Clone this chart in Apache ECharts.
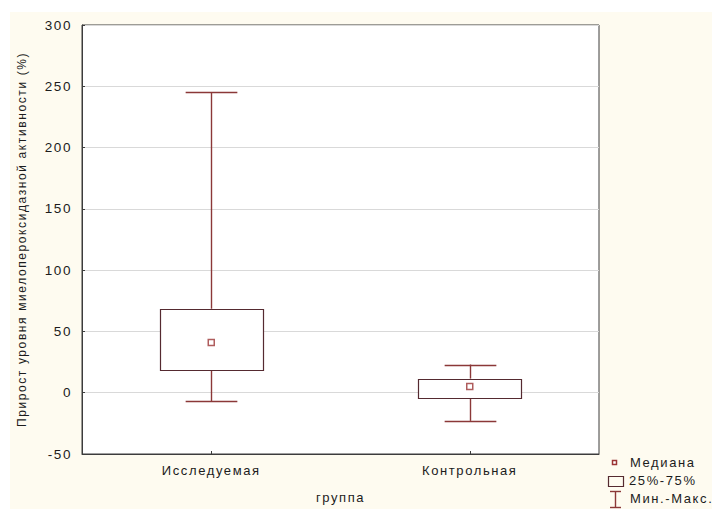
<!DOCTYPE html>
<html>
<head>
<meta charset="utf-8">
<script src="https://cdn.jsdelivr.net/npm/echarts@6/dist/echarts.min.js"></script>
<style>
  html, body { margin: 0; padding: 0; background: #ffffff; }
  #wrap { position: relative; width: 712px; height: 509px; background: #ffffff; overflow: hidden; }
  #panel { position: absolute; left: 10px; top: 12px; right: 0; bottom: 0; background: #fefbf0; }
  #chart { position: absolute; left: 0; top: 0; width: 712px; height: 509px; }
  #chart svg text { letter-spacing: 1.6px; }
</style>
</head>
<body>
<div id="wrap">
  <div id="panel"></div>
  <div id="chart"></div>
</div>
<script>
// Groups on the x axis
const categories = ['Исследуемая', 'Контрольная'];
// Five-number summary per group (%)
const minValues = [-7, -23];
const q1Values = [18.5, -4];
const medianValues = [41, 5];
const q3Values = [68.5, 11.5];
const maxValues = [245, 23];
// Value axis range and step
const yMin = -50;
const yMax = 300;
const yStep = 50;
// Legend captions
const legendNames = ['Медиана', '25%-75%', 'Мин.-Макс.'];

const boxStroke = '#552a30';
const whiskerStroke = '#8b3838';
const medianStroke = '#9b3434';
const textColor = '#1c1c1c';
const fontFamily = 'Liberation Sans, Arial, sans-serif';

const crisp = v => Math.round(v) + 0.5;

const chart = echarts.init(document.getElementById('chart'), null, { renderer: 'svg' });

const boxData = categories.map((c, i) => [i, q1Values[i], q3Values[i]]);
const whiskerData = categories.map((c, i) => [i, minValues[i], q1Values[i], q3Values[i], maxValues[i]]);
const medianData = categories.map((c, i) => [i, medianValues[i]]);

const legendY = [463, 481, 499];

chart.setOption({
  backgroundColor: 'transparent',
  animation: false,
  grid: {
    left: 82, top: 25, width: 517, height: 432,
    show: true, backgroundColor: '#ffffff',
    borderColor: '#3c3c3c', borderWidth: 1
  },
  xAxis: {
    type: 'category',
    data: categories,
    name: 'группа',
    nameLocation: 'middle',
    nameGap: 37,
    nameTextStyle: { color: textColor, fontSize: 13, fontFamily: fontFamily },
    axisLine: { show: true, onZero: false, lineStyle: { color: '#3c3c3c' } },
    axisTick: { show: true, inside: true, length: 3, alignWithLabel: true, lineStyle: { color: '#3c3c3c' } },
    axisLabel: { color: textColor, fontSize: 13, fontFamily: fontFamily, margin: 10 },
    splitLine: { show: false }
  },
  yAxis: {
    type: 'value',
    min: yMin, max: yMax, interval: yStep,
    name: 'Прирост уровня миелопероксидазной активности (%)',
    nameLocation: 'middle',
    nameGap: 54,
    nameRotate: 90,
    nameTextStyle: { color: textColor, fontSize: 12, fontFamily: fontFamily },
    axisLine: { show: true, lineStyle: { color: '#3c3c3c' } },
    axisTick: { show: true, inside: true, length: 3, lineStyle: { color: '#3c3c3c' } },
    axisLabel: { color: textColor, fontSize: 13.5, fontFamily: fontFamily, margin: 10 },
    splitLine: { show: true, lineStyle: { color: '#d9d9d9', width: 1 } }
  },
  series: [
    {
      name: legendNames[2],
      type: 'custom',
      data: whiskerData,
      encode: { x: 0, y: [1, 2, 3, 4] },
      renderItem: function (params, api) {
        const idx = api.value(0);
        const pMin = api.coord([idx, api.value(1)]);
        const pQ1 = api.coord([idx, api.value(2)]);
        const pQ3 = api.coord([idx, api.value(3)]);
        const pMax = api.coord([idx, api.value(4)]);
        const cx = crisp(pMin[0]);
        const capHalf = api.size([1, 0])[0] * 0.1;
        const style = { stroke: whiskerStroke, lineWidth: 1.4, fill: null };
        return {
          type: 'group',
          children: [
            { type: 'line', shape: { x1: cx, y1: pMin[1], x2: cx, y2: pQ1[1] }, style: style },
            { type: 'line', shape: { x1: cx, y1: pQ3[1], x2: cx, y2: pMax[1] }, style: style },
            { type: 'line', shape: { x1: cx - capHalf, y1: crisp(pMin[1]), x2: cx + capHalf, y2: crisp(pMin[1]) }, style: style },
            { type: 'line', shape: { x1: cx - capHalf, y1: crisp(pMax[1]), x2: cx + capHalf, y2: crisp(pMax[1]) }, style: style }
          ]
        };
      },
      z: 2
    },
    {
      name: legendNames[1],
      type: 'custom',
      data: boxData,
      encode: { x: 0, y: [1, 2] },
      renderItem: function (params, api) {
        const idx = api.value(0);
        const lo = api.coord([idx, api.value(1)]);
        const hi = api.coord([idx, api.value(2)]);
        const w = api.size([1, 0])[0] * 0.4;
        const x0 = crisp(lo[0] - w / 2);
        const x1 = crisp(lo[0] + w / 2);
        const y0 = crisp(hi[1]);
        const y1 = crisp(lo[1]);
        return {
          type: 'rect',
          shape: { x: x0, y: y0, width: x1 - x0, height: y1 - y0 },
          style: { fill: '#ffffff', stroke: boxStroke, lineWidth: 1.2 }
        };
      },
      z: 3
    },
    {
      name: legendNames[0],
      type: 'scatter',
      data: medianData,
      symbol: 'rect',
      symbolSize: 6,
      itemStyle: { color: '#ffffff', borderColor: medianStroke, borderWidth: 1.5 },
      z: 4
    }
  ],
  graphic: [
    { type: 'rect', shape: { x: 612.5, y: 460.5, width: 4, height: 4 },
      style: { fill: '#ffffff', stroke: medianStroke, lineWidth: 1.5 } },
    { type: 'rect', shape: { x: 608.5, y: 476.5, width: 15, height: 10 },
      style: { fill: 'transparent', stroke: boxStroke, lineWidth: 1.2 } },
    { type: 'line', shape: { x1: 615.5, y1: 491, x2: 615.5, y2: 508 },
      style: { stroke: whiskerStroke, lineWidth: 1.4 } },
    { type: 'line', shape: { x1: 610, y1: 491.5, x2: 621, y2: 491.5 },
      style: { stroke: whiskerStroke, lineWidth: 1.4 } },
    { type: 'line', shape: { x1: 610, y1: 507.5, x2: 621, y2: 507.5 },
      style: { stroke: whiskerStroke, lineWidth: 1.4 } },
    { type: 'text', left: 630, top: legendY[0] - 7,
      style: { text: legendNames[0], fill: textColor, font: '13px ' + fontFamily } },
    { type: 'text', left: 629, top: legendY[1] - 7,
      style: { text: legendNames[1], fill: textColor, font: '13px ' + fontFamily } },
    { type: 'text', left: 630, top: legendY[2] - 7,
      style: { text: legendNames[2], fill: textColor, font: '13px ' + fontFamily } }
  ]
});
</script>
</body>
</html>
